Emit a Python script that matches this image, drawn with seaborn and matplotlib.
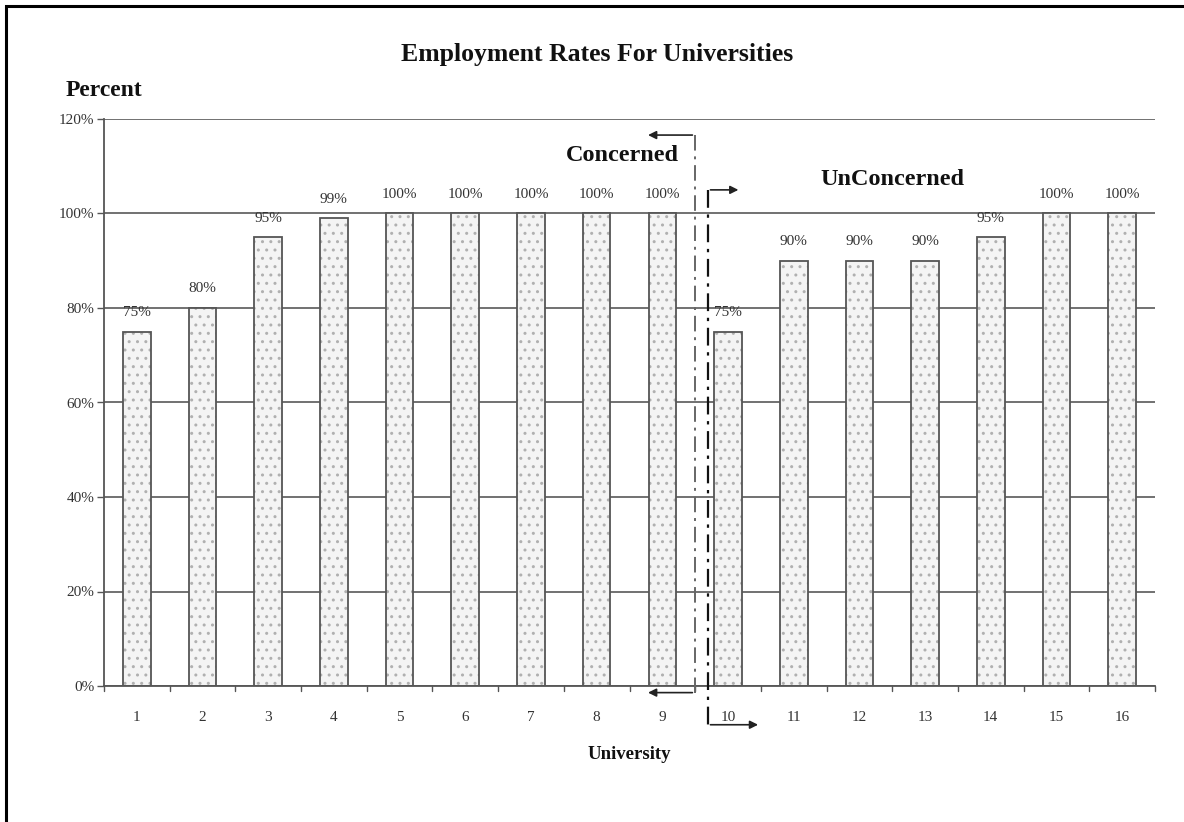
import matplotlib
matplotlib.use("Agg")
import matplotlib.pyplot as plt
from matplotlib.patches import Rectangle
import seaborn as sns
import pandas as pd

universities = [str(i) for i in range(1, 17)]
rates = [75, 80, 95, 99, 100, 100, 100, 100, 100, 75, 90, 90, 90, 95, 100, 100]
rate_labels = ["75%", "80%", "95%", "99%", "100%", "100%", "100%", "100%", "100%",
               "75%", "90%", "90%", "90%", "95%", "100%", "100%"]
y_ticks = [0, 20, 40, 60, 80, 100, 120]
y_tick_labels = ["0%", "20%", "40%", "60%", "80%", "100%", "120%"]

df = pd.DataFrame({"University": universities, "Rate": rates})

sns.set_theme(style="white")
plt.rcParams["font.family"] = ["Liberation Serif", "DejaVu Serif"]

fig = plt.figure(figsize=(11.84, 8.22), dpi=100)
ax = fig.add_axes([104 / 1184, 1 - 686 / 822, (1155 - 104) / 1184, (686 - 119) / 822])

# dotted fill, then crisp outlines on top
sns.barplot(data=df, x="University", y="Rate", order=universities, ax=ax,
            width=0.42, color="#f4f4f4", edgecolor="#b0b0b0", linewidth=0,
            hatch="..", saturation=1)
sns.barplot(data=df, x="University", y="Rate", order=universities, ax=ax,
            width=0.42, fill=False, edgecolor="#555555", linewidth=1.3,
            saturation=1)

for bar in ax.containers[0]:
    bar.set_zorder(2)
for bar in ax.containers[1]:
    bar.set_zorder(3)

ax.bar_label(ax.containers[1], labels=rate_labels, padding=9,
             fontsize=11, color="#333333")

ax.set_xlim(-0.5, 15.5)
ax.set_ylim(0, 120)
ax.set_yticks(y_ticks)
ax.set_yticklabels(y_tick_labels, fontsize=11, color="#333333")
ax.tick_params(axis="x", labelsize=11, labelcolor="#333333", length=0, pad=18)
ax.tick_params(axis="y", length=5, width=1, color="#555555", left=True, pad=2)

# category boundary ticks on the x axis
for b in [i - 0.5 for i in range(17)]:
    ax.plot([b, b], [0, -1.1], color="#555555", lw=1, clip_on=False)

ax.grid(axis="y", color="#666666", linewidth=1.3)
ax.set_axisbelow(True)
for side in ["top", "right"]:
    ax.spines[side].set_visible(False)
for side in ["left", "bottom"]:
    ax.spines[side].set_color("#555555")
    ax.spines[side].set_linewidth(1.3)

ax.set_xlabel("University", fontsize=13.5, fontweight="bold", labelpad=16, color="#111111")
ax.set_ylabel("")

fig.text(597 / 1184, 1 - 55 / 822, "Employment Rates For Universities",
         ha="center", va="center", fontsize=18.5, fontweight="bold", color="#111111")
fig.text(104 / 1184, 1 - 90 / 822, "Percent", ha="center", va="center",
         fontsize=17, fontweight="bold", color="#111111")

# group dividers with direction arrows
ax.plot([8.5, 8.5], [116.6, -1.4], color="#666666", lw=1.4,
        linestyle=(0, (8, 3, 1.5, 3)), clip_on=False, zorder=4)
ax.plot([8.69, 8.69], [105, -8.2], color="#111111", lw=1.6,
        linestyle=(0, (8, 3, 1.5, 3)), clip_on=False, zorder=4)
arrow = dict(arrowstyle="-|>", color="#222222", lw=1.2, mutation_scale=12)
ax.annotate("", xy=(7.74, 116.6), xytext=(8.5, 116.6), arrowprops=arrow,
            annotation_clip=False)
ax.annotate("", xy=(7.74, -1.4), xytext=(8.5, -1.4), arrowprops=arrow,
            annotation_clip=False)
ax.annotate("", xy=(9.2, 105), xytext=(8.69, 105), arrowprops=arrow,
            annotation_clip=False)
ax.annotate("", xy=(9.5, -8.2), xytext=(8.69, -8.2), arrowprops=arrow,
            annotation_clip=False)

ax.text(7.39, 112.2, "Concerned", ha="center", va="center", fontsize=17.5,
        fontweight="bold", color="#111111")
ax.text(11.51, 107.1, "UnConcerned", ha="center", va="center", fontsize=17.5,
        fontweight="bold", color="#111111")

# page frame
fig.patches.append(Rectangle((6 / 1184, -0.2), 1.5, 1.2 - 6 / 822,
                             transform=fig.transFigure, fill=False,
                             edgecolor="black", linewidth=2.2))

fig.savefig("out.png", dpi=100, facecolor="white")
